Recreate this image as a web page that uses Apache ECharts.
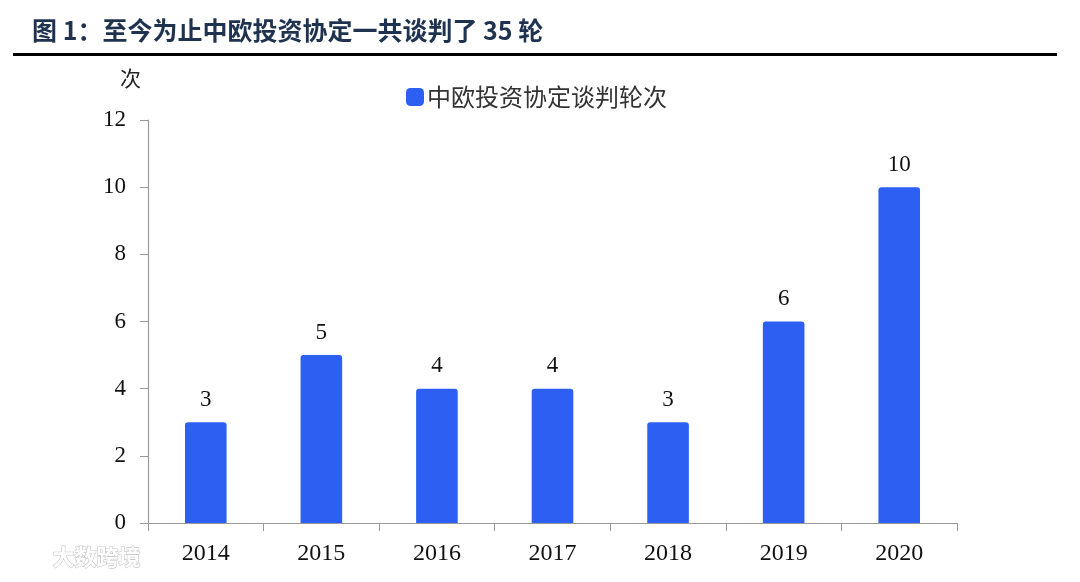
<!DOCTYPE html>
<html>
<head>
<meta charset="utf-8">
<script src="https://cdn.jsdelivr.net/npm/echarts@6/dist/echarts.min.js"></script>
<style>
html,body{margin:0;padding:0;background:#fff;}
#c{width:1080px;height:582px;}
</style>
</head>
<body>
<div id="c"></div>
<script>
const categories = ['2014','2015','2016','2017','2018','2019','2020'];
const rounds = [3, 5, 4, 4, 3, 6, 10];
const seriesName = '中欧投资协定谈判轮次';
const titleText = '图 1：至今为止中欧投资协定一共谈判了 35 轮';
const unitText = '次';

const serif = '"Liberation Serif","DejaVu Serif",serif';
const cjk = '"Noto Sans CJK SC","Noto Sans",sans-serif';

const chart = echarts.init(document.getElementById('c'), null, {renderer:'canvas'});
chart.setOption({
  backgroundColor:'#fff',
  animation:false,
  graphic:[
    {type:'text', left:32, top:18, style:{text:titleText, font:'bold 25px ' + cjk, fill:'#1f3350'}},
    {type:'rect', shape:{x:13, y:53, width:1044, height:3}, style:{fill:'#000'}},
    {type:'text', left:120, top:68, style:{text:unitText, font:'21px ' + cjk, fill:'#222'}},
    {type:'text', left:52, top:545, style:{text:'大数跨境', font:'bold 22px ' + cjk, fill:'#fff', stroke:'#c8c8c8', lineWidth:1.2}}
  ],
  legend:{
    data:[seriesName],
    left:401, top:80,
    itemWidth:18, itemHeight:18, itemGap:4,
    icon:'roundRect',
    textStyle:{fontFamily:cjk, fontSize:24, color:'#333', padding:[0,0,0,-2]}
  },
  grid:{left:148, right:123, top:120, bottom:59, containLabel:false},
  xAxis:{
    type:'category', data:categories,
    axisLine:{lineStyle:{color:'#999', width:1.2}},
    axisTick:{show:true, length:8, lineStyle:{color:'#999'}},
    axisLabel:{fontFamily:serif, fontSize:24, color:'#111', margin:19}
  },
  yAxis:{
    type:'value', min:0, max:12, interval:2,
    axisLine:{show:true, lineStyle:{color:'#999', width:1.2}},
    axisTick:{show:true, length:8, lineStyle:{color:'#999'}},
    splitLine:{show:false},
    axisLabel:{fontFamily:serif, fontSize:23, color:'#111', margin:22}
  },
  series:[{
    name:seriesName, type:'bar', data:rounds,
    barWidth:'36%',
    itemStyle:{color:'#2d5ff2', borderRadius:[3,3,0,0]},
    label:{show:true, position:'top', distance:11, fontFamily:serif, fontSize:23, color:'#111'}
  }]
});
</script>
</body>
</html>
